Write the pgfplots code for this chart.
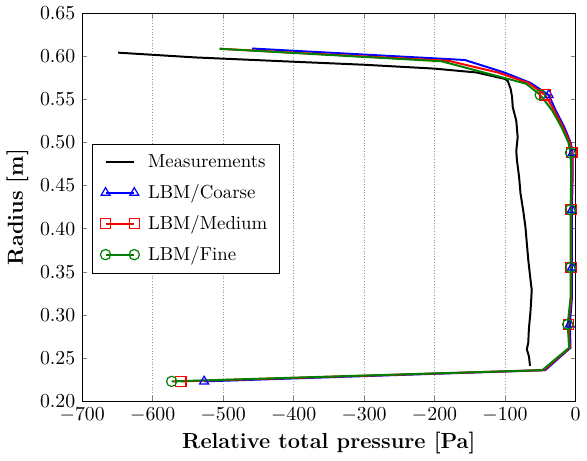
\documentclass[border=0pt]{standalone}
\usepackage{pgfplots}
\pgfplotsset{compat=1.18}
\definecolor{mplgreen}{rgb}{0,0.5,0}
\begin{document}
\begin{tikzpicture}
\begin{axis}[
  scale only axis, width=249pt, height=196pt,
  xmin=-700, xmax=0, ymin=0.2, ymax=0.65,
  xtick={-700,-600,-500,-400,-300,-200,-100,0},
  ytick={0.20,0.25,0.30,0.35,0.40,0.45,0.50,0.55,0.60,0.65},
  yticklabel style={/pgf/number format/fixed,/pgf/number format/fixed zerofill,/pgf/number format/precision=2},
  tick label style={font=\fontsize{10.4}{12}\selectfont},
  tick align=inside, major tick length=2.5pt,
  xmajorgrids, grid style={densely dotted, gray!80},
  xlabel={\textbf{Relative total pressure [Pa]}},
  ylabel={\textbf{Radius [m]}},
  label style={font=\fontsize{11}{13}\selectfont},
  xlabel style={yshift=2pt},
  ylabel style={yshift=-1pt},
  legend style={at={(rel axis cs:0.02,0.662)}, anchor=north west, draw=black, fill=white,
    font=\fontsize{9.5}{11}\selectfont,
    inner xsep=4pt, inner ysep=3pt, row sep=3pt, cells={anchor=west}},
  legend image code/.code={\path (-2pt,0pt) (19pt,0pt);
    \draw[#1, mark indices={1,2}] plot coordinates {(0pt,0pt) (14.5pt,0pt)};},
  every axis plot/.append style={line width=1pt, mark size=2.6pt},
]
\addplot[black, no marks] coordinates {
(-649,0.604) (-540,0.5985) (-400,0.5935) (-300,0.590) (-200,0.5855) (-140,0.581)
(-100,0.5735) (-96,0.571) (-92,0.562) (-90,0.553) (-89,0.541) (-84,0.525) (-82,0.506)
(-84,0.490) (-83,0.479) (-80,0.460) (-78,0.441) (-74,0.420) (-71,0.402) (-67,0.364)
(-63,0.335) (-62,0.329) (-63,0.315) (-64,0.302) (-66,0.285) (-67,0.268) (-69,0.260)
(-66,0.252) (-64.5,0.241)};
\addlegendentry{Measurements}
\addplot[blue, mark=triangle, mark options={solid, fill=none, line width=0.6pt}, mark indices={1,4,6,8,10,14}] coordinates {
(-527,0.223) (-43,0.236) (-7,0.262) (-8,0.289) (-5,0.32) (-5,0.355) (-5,0.39) (-5,0.422)
(-4,0.46) (-4,0.488) (-7,0.50) (-16,0.518) (-28,0.537) (-38,0.555) (-64,0.569)
(-101,0.581) (-157,0.5955) (-459,0.6088)};
\addlegendentry{LBM/Coarse}
\addplot[red, mark=square, mark options={solid, fill=none, line width=0.6pt}, mark indices={1,4,6,8,10,14}] coordinates {
(-560,0.223) (-45,0.236) (-8,0.262) (-10,0.289) (-6,0.32) (-6,0.355) (-6,0.39) (-6,0.422)
(-5,0.46) (-5,0.488) (-8,0.50) (-18,0.518) (-30,0.537) (-43,0.555) (-67,0.569)
(-110,0.581) (-180,0.5945) (-505,0.6085)};
\addlegendentry{LBM/Medium}
\addplot[mplgreen, mark=o, mark options={solid, fill=none, line width=0.6pt}, mark indices={1,4,6,8,10,14}] coordinates {
(-573,0.223) (-47,0.236) (-9,0.262) (-11,0.289) (-7,0.32) (-7,0.355) (-7,0.39) (-7,0.422)
(-6,0.46) (-7,0.488) (-10,0.50) (-20,0.518) (-33,0.537) (-50,0.555) (-70,0.568)
(-190,0.594) (-505,0.6085)};
\addlegendentry{LBM/Fine}
\end{axis}
\end{tikzpicture}
\end{document}
